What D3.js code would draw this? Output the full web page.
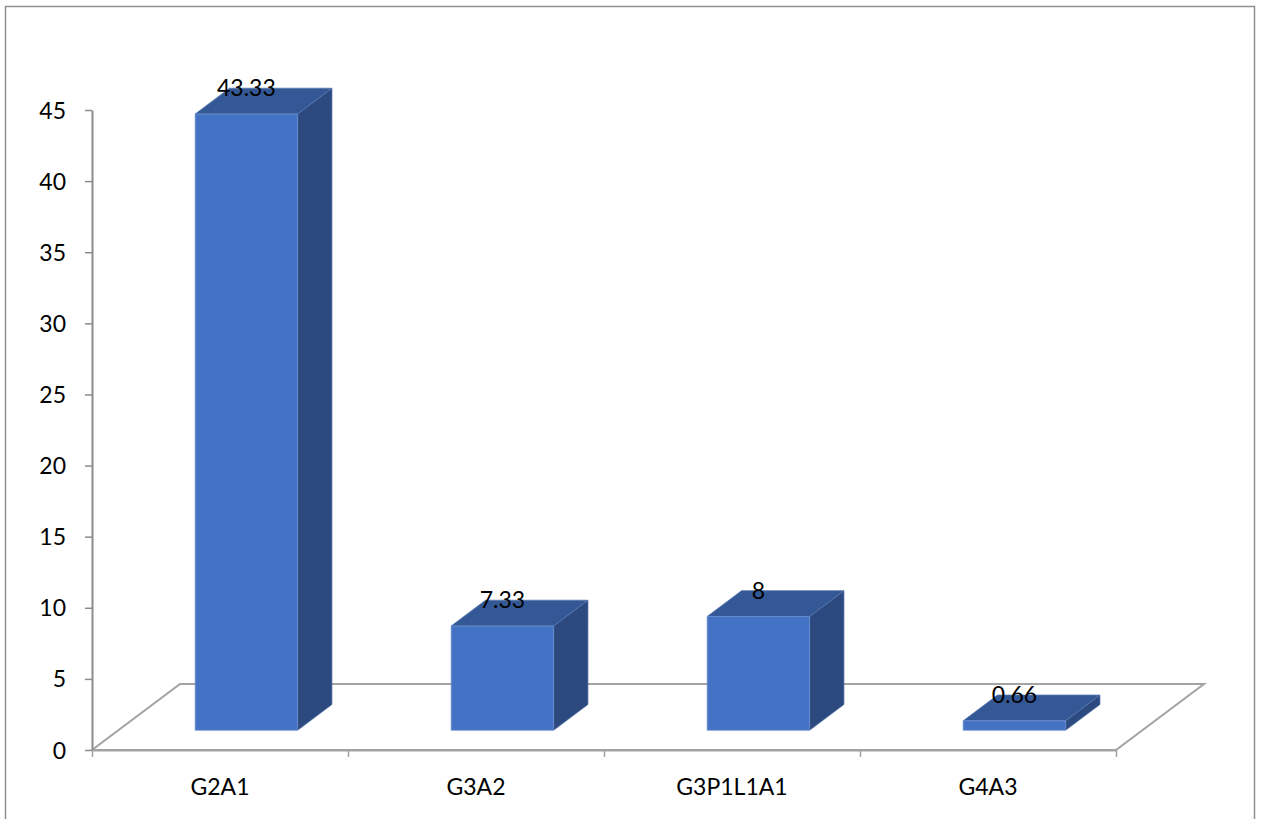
<!DOCTYPE html>
<html>
<head>
<meta charset="utf-8">
<script src="https://cdn.jsdelivr.net/npm/d3@7"></script>
<style>
  html, body { margin: 0; padding: 0; background: #fff; }
  svg { display: block; }
  text { font-family: Lato, "Open Sans", sans-serif; fill: #000; }
</style>
</head>
<body>
<svg id="chart" width="1264" height="819"></svg>
<script>
// Chart data
const categories = ["G2A1", "G3A2", "G3P1L1A1", "G4A3"];
const values = [43.33, 7.33, 8, 0.66];
const valueLabels = ["43.33", "7.33", "8", "0.66"];
const yTicks = [0, 5, 10, 15, 20, 25, 30, 35, 40, 45];

const svg = d3.select("#chart");
const fontSize = "23px";

// Plot geometry
const left = 92, right = 1116, baseY = 750, topY = 110;
const depthX = 88, depthY = -66;          // floor depth vector
const barDepth0 = 0.30, barDepth1 = 0.69; // bar placement inside the floor depth
const barFrac = 0.40;                     // bar width as share of category step

const y = d3.scaleLinear().domain([0, 45]).range([baseY, topY]);
const x = d3.scaleBand().domain(categories).range([left, right]).padding(0);
const xEdges = d3.scaleLinear().domain([0, categories.length]).range([left, right]);

// project (screen x on front plane, value, depth fraction) -> screen point
const P = (sx, v, f) => [sx + f * depthX, y(v) + f * depthY];

// outer frame
svg.append("rect")
  .attr("x", 5.5).attr("y", 6.5).attr("width", 1249).attr("height", 830)
  .attr("fill", "none").attr("stroke", "#8f8f8f").attr("stroke-width", 1.5);

// floor
const floorPts = [P(left, 0, 0), P(right, 0, 0), P(right, 0, 1), P(left, 0, 1)];
svg.append("polygon")
  .attr("points", floorPts.map(p => p.join(",")).join(" "))
  .attr("fill", "none").attr("stroke", "#a3a3a3").attr("stroke-width", 2);

// value axis
const yAxis = svg.append("g")
  .attr("transform", `translate(${left},0)`)
  .call(d3.axisLeft(y).tickValues(yTicks).tickSize(7).tickSizeOuter(0).tickPadding(19));
yAxis.select(".domain").attr("stroke", "#8c8c8c").attr("stroke-width", 2);
yAxis.selectAll(".tick line").attr("stroke", "#8c8c8c").attr("stroke-width", 1.5);
yAxis.selectAll(".tick text").style("font-size", fontSize).attr("dy", "0.35em");

// category axis: boundary ticks
const xAxis = svg.append("g")
  .attr("transform", `translate(0,${baseY})`)
  .call(d3.axisBottom(xEdges).tickValues(d3.range(categories.length + 1)).tickSize(7).tickSizeOuter(0).tickFormat(""));
xAxis.select(".domain").attr("stroke", "#a3a3a3").attr("stroke-width", 2);
xAxis.selectAll(".tick line").attr("stroke", "#a3a3a3").attr("stroke-width", 1.5);

// category labels
svg.append("g").selectAll("text")
  .data(categories)
  .join("text")
  .attr("x", d => x(d) + x.bandwidth() / 2)
  .attr("y", 786)
  .attr("text-anchor", "middle")
  .attr("dominant-baseline", "central")
  .style("font-size", fontSize)
  .text(d => d);

// 3D bars
const bw = x.bandwidth() * barFrac;
const bars = svg.append("g").selectAll("g")
  .data(categories.map((c, i) => ({ c, v: values[i], label: valueLabels[i] })))
  .join("g");

const poly = pts => pts.map(p => p.join(",")).join(" ");

bars.each(function (d) {
  const g = d3.select(this);
  const x0 = x(d.c) + (x.bandwidth() - bw) / 2;
  const x1 = x0 + bw;
  // side face
  g.append("polygon")
    .attr("points", poly([P(x1, 0, barDepth0), P(x1, 0, barDepth1), P(x1, d.v, barDepth1), P(x1, d.v, barDepth0)]))
    .attr("fill", "#2c4a7f").attr("stroke", "#4a68a0").attr("stroke-width", 0.8);
  // top face
  g.append("polygon")
    .attr("points", poly([P(x0, d.v, barDepth0), P(x1, d.v, barDepth0), P(x1, d.v, barDepth1), P(x0, d.v, barDepth1)]))
    .attr("fill", "#335895").attr("stroke", "#5576b0").attr("stroke-width", 0.8);
  // front face
  g.append("polygon")
    .attr("points", poly([P(x0, 0, barDepth0), P(x1, 0, barDepth0), P(x1, d.v, barDepth0), P(x0, d.v, barDepth0)]))
    .attr("fill", "#4472c4").attr("stroke", "#6a8fd2").attr("stroke-width", 0.8);
  // value label
  const lp = P((x0 + x1) / 2, d.v, barDepth1);
  g.append("text")
    .attr("x", (x0 + x1) / 2 + barDepth0 * depthX)
    .attr("y", lp[1] - 1)
    .attr("text-anchor", "middle")
    .attr("dominant-baseline", "central")
    .style("font-size", fontSize)
    .text(d.label);
});
</script>
</body>
</html>
